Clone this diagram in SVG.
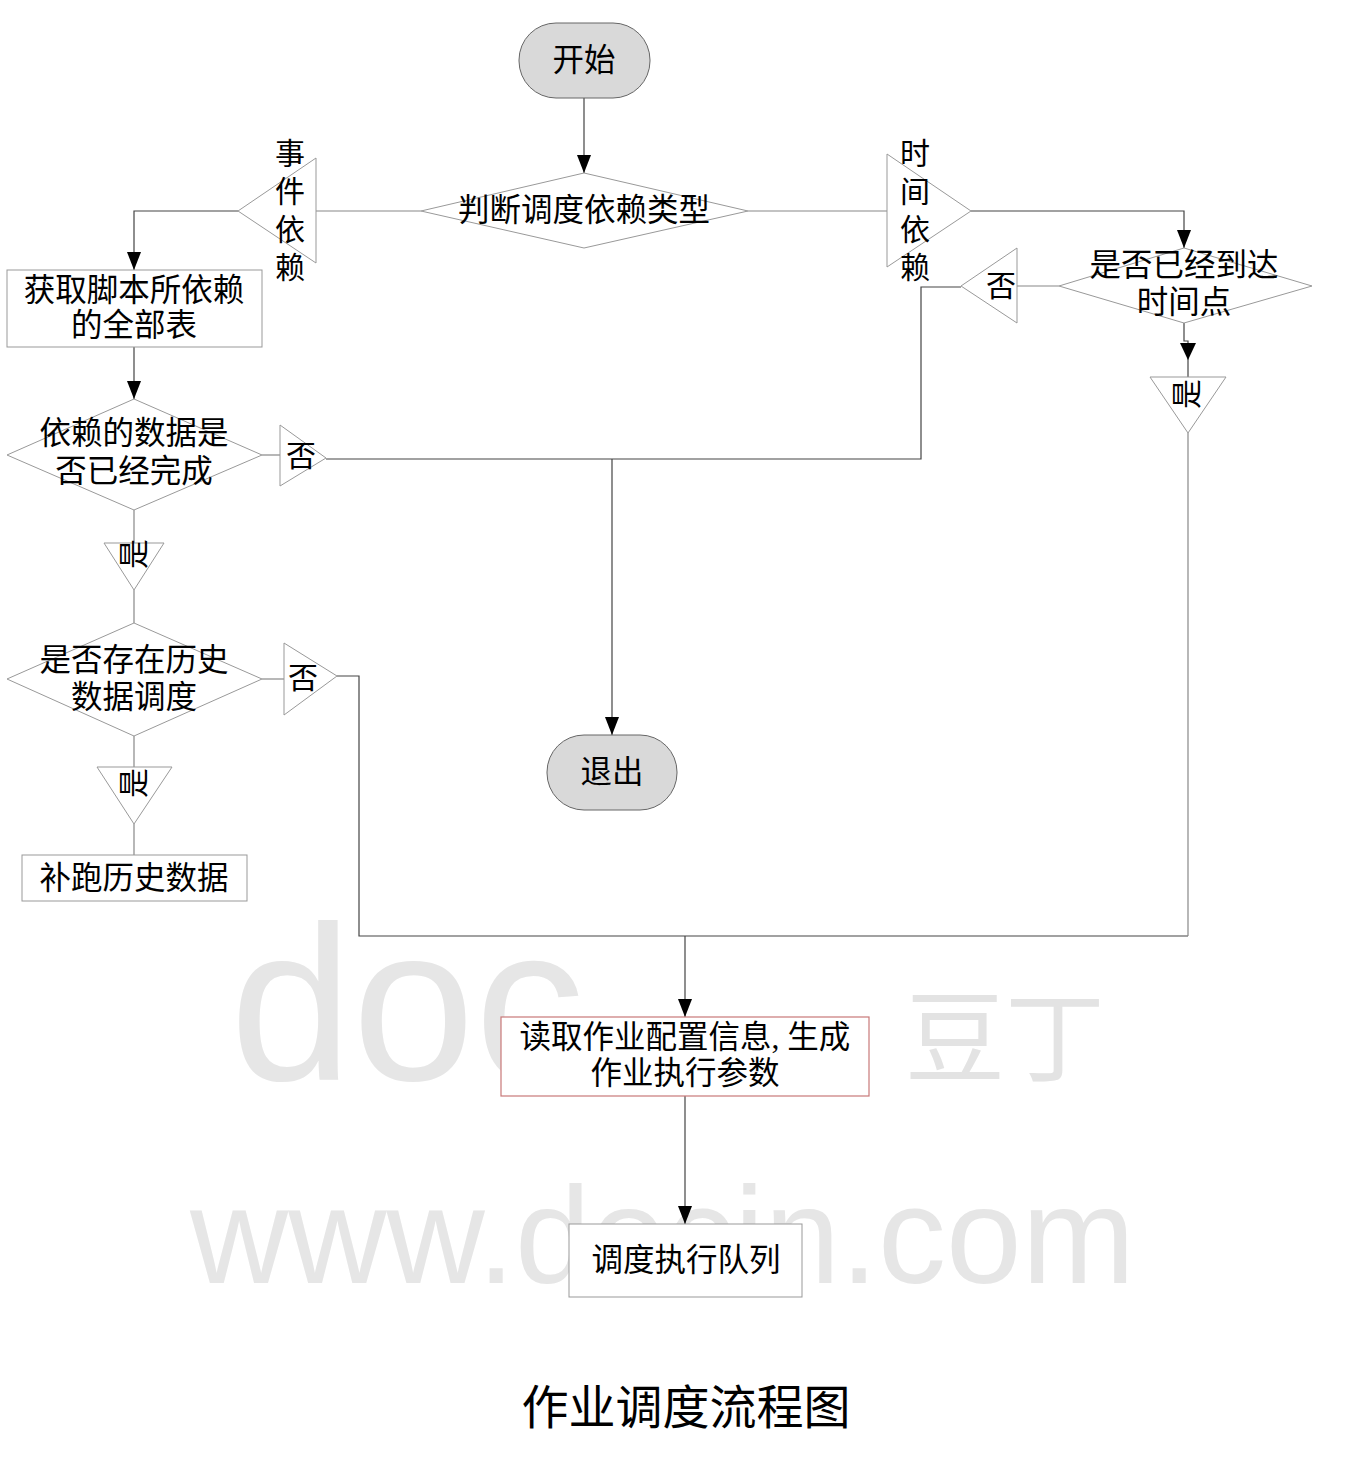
<svg xmlns="http://www.w3.org/2000/svg" width="1350" height="1460" viewBox="0 0 1350 1460">
<style>
.wm{fill:#e6e6e6;font-family:"Liberation Sans",Arial,sans-serif}
.t{font-family:"Liberation Serif","Noto Sans CJK SC",serif;fill:#000;text-anchor:middle;dominant-baseline:central}
.f31{font-size:31.5px}
.f29{font-size:30px}
.shape{fill:#fff;stroke:#999;stroke-width:1}
.term{fill:#d9d9d9;stroke:#666;stroke-width:1}
.conn{fill:none;stroke:#444;stroke-width:1.2}
.plain{fill:none;stroke:#888;stroke-width:1.2}
</style>
<defs>
<marker id="arr" markerUnits="userSpaceOnUse" viewBox="0 0 18 14" refX="18" refY="7" markerWidth="18" markerHeight="14" orient="auto">
<path d="M0,0 L18,7 L0,14 z" fill="#000"/>
</marker>
</defs>
<rect width="1350" height="1460" fill="#fff"/>
<g id="watermark">
<text class="wm" x="230" y="1080" font-size="220">doc</text>
<text class="wm" x="190" y="1283" font-size="138" textLength="945" lengthAdjust="spacingAndGlyphs">www.docin.com</text>
<text x="1005" y="1030" font-size="100" fill="#e3e3e3" text-anchor="middle" dominant-baseline="central" font-family="Noto Sans CJK SC,sans-serif">豆丁</text>
</g>
<g id="connectors">
<polyline class="conn" points="584,98 584,173" marker-end="url(#arr)"/>
<polyline class="plain" points="421,211 316,211"/>
<polyline class="conn" points="238,211 134,211 134,270" marker-end="url(#arr)"/>
<polyline class="conn" points="134,347 134,399" marker-end="url(#arr)"/>
<polyline class="plain" points="262,455 280,455"/>
<polyline class="conn" points="326,459 921,459 921,287 961,287"/>
<polyline class="conn" points="612,459 612,735" marker-end="url(#arr)"/>
<polyline class="plain" points="134,510 134,543"/>
<polyline class="plain" points="134,590 134,623"/>
<polyline class="plain" points="262,679 284,679"/>
<polyline class="conn" points="337,676 359,676 359,936 1188,936"/>
<polyline class="plain" points="134,736 134,767"/>
<polyline class="plain" points="134,824 134,855"/>
<polyline class="plain" points="748,211 887,211"/>
<polyline class="conn" points="971,211 1184,211 1184,248" marker-end="url(#arr)"/>
<polyline class="plain" points="1059,286 1017,286"/>
<polyline class="conn" points="1184,323 1184,341 1188,341 1188,377"/>
<polygon points="1180,343 1196,343 1188,360" fill="#000"/>
<polyline class="plain" points="1188,433 1188,936"/>
<polyline class="conn" points="685,936 685,1017" marker-end="url(#arr)"/>
<polyline class="conn" points="685,1096 685,1224" marker-end="url(#arr)"/>
</g>
<g id="start">
<rect class="term" x="519" y="23" width="131" height="75" rx="37" ry="37"/>
<text class="t f31" x="584" y="60">开始</text>
</g>
<g id="judge-type">
<polygon class="shape" points="421,211 584,173 748,211 584,248"/>
<text class="t f31" x="584" y="210">判断调度依赖类型</text>
</g>
<g id="event-dep">
<polygon class="shape" points="238,211 316,158 316,263"/>
<text class="t f29" x="290" y="153">事</text>
<text class="t f29" x="290" y="191">件</text>
<text class="t f29" x="290" y="229">依</text>
<text class="t f29" x="290" y="267">赖</text>
</g>
<g id="time-dep">
<polygon class="shape" points="887,154 971,211 887,267"/>
<text class="t f29" x="915" y="153">时</text>
<text class="t f29" x="915" y="191">间</text>
<text class="t f29" x="915" y="229">依</text>
<text class="t f29" x="915" y="267">赖</text>
</g>
<g id="get-tables">
<rect class="shape" x="7" y="270" width="255" height="77"/>
<text class="t f31" x="134" y="290">获取脚本所依赖</text>
<text class="t f31" x="134" y="325">的全部表</text>
</g>
<g id="data-done">
<polygon class="shape" points="7,455 134,399 262,455 134,510"/>
<text class="t f31" x="134" y="433">依赖的数据是</text>
<text class="t f31" x="134" y="471">否已经完成</text>
</g>
<g id="no1">
<polygon class="shape" points="280,425 326,458 280,486"/>
<text class="t f29" x="301" y="455">否</text>
</g>
<g id="yes1">
<polygon class="shape" points="104,543 164,543 134,590"/>
<text class="t f29" transform="translate(133,554) rotate(-90)" x="0" y="0">是</text>
</g>
<g id="history">
<polygon class="shape" points="7,679 134,623 262,679 134,736"/>
<text class="t f31" x="134" y="660">是否存在历史</text>
<text class="t f31" x="134" y="697">数据调度</text>
</g>
<g id="no2">
<polygon class="shape" points="284,643 337,676 284,715"/>
<text class="t f29" x="303" y="677">否</text>
</g>
<g id="yes2">
<polygon class="shape" points="97,767 172,767 134,824"/>
<text class="t f29" transform="translate(133,783) rotate(-90)" x="0" y="0">是</text>
</g>
<g id="rerun">
<rect class="shape" x="22" y="855" width="225" height="46"/>
<text class="t f31" x="134" y="878">补跑历史数据</text>
</g>
<g id="time-reached">
<polygon class="shape" points="1059,286 1184,248 1312,286 1184,323"/>
<text class="t f31" x="1184" y="265">是否已经到达</text>
<text class="t f31" x="1184" y="302">时间点</text>
</g>
<g id="no3">
<polygon class="shape" points="961,286 1017,248 1017,323"/>
<text class="t f29" x="1001" y="285">否</text>
</g>
<g id="yes3">
<polygon class="shape" points="1150,377 1226,377 1188,433"/>
<text class="t f29" transform="translate(1186,394) rotate(-90)" x="0" y="0">是</text>
</g>
<g id="exit">
<rect class="term" x="547" y="735" width="130" height="75" rx="37" ry="37"/>
<text class="t f31" x="612" y="772">退出</text>
</g>
<g id="read-config">
<rect x="501" y="1017" width="368" height="79" fill="#fff" stroke="#c87878" stroke-width="1.2"/>
<text class="t f31" x="685" y="1037">读取作业配置信息, 生成</text>
<text class="t f31" x="685" y="1073">作业执行参数</text>
</g>
<g id="queue">
<rect class="shape" x="569" y="1224" width="233" height="73"/>
<text class="t f31" x="686" y="1260">调度执行队列</text>
</g>
<text class="t" x="686" y="1408" font-size="47">作业调度流程图</text>
</svg>
